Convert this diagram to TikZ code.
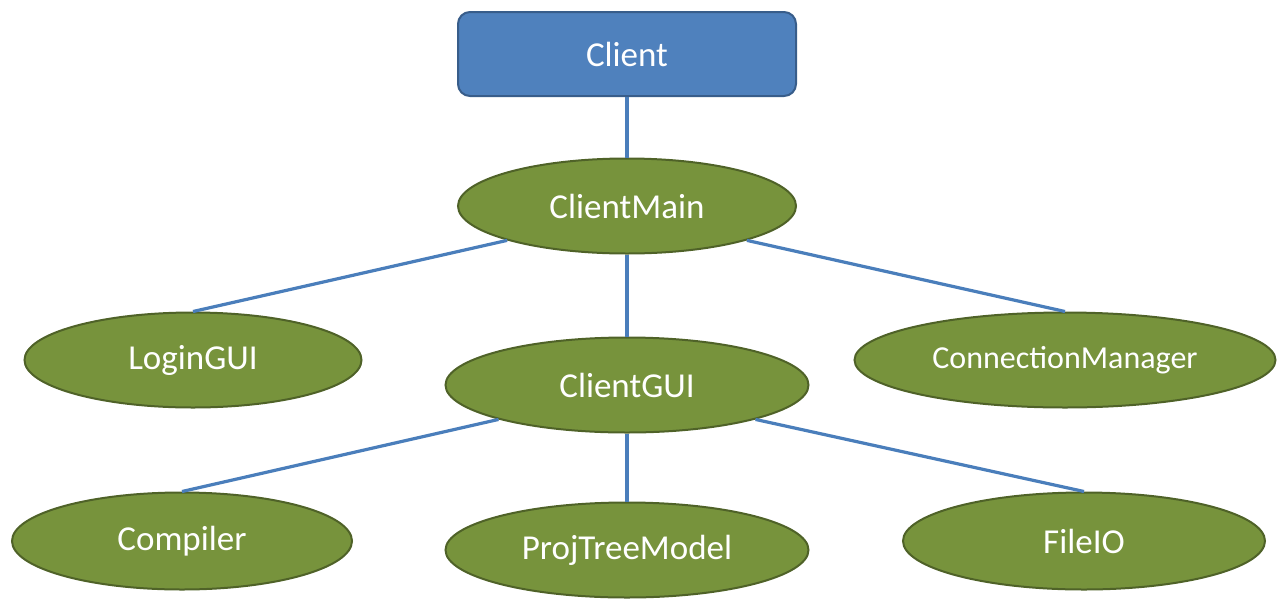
\documentclass[tikz,border=0pt]{standalone}
\usepackage{fontspec}
\setmainfont{Carlito}
\usetikzlibrary{shapes.geometric}
\definecolor{boxblue}{HTML}{4F81BD}
\definecolor{boxblueline}{HTML}{385D8A}
\definecolor{leafgreen}{HTML}{77933C}
\definecolor{leafgreenline}{HTML}{4F6228}
\definecolor{linkblue}{HTML}{4A7EBB}
\tikzset{
  rootbox/.style={draw=boxblueline, fill=boxblue, line width=2pt, rounded corners=12pt,
    minimum width=338pt, minimum height=84pt, inner sep=0pt, text=white,
    font=\fontsize{35}{40}\selectfont},
  classnode/.style={ellipse, draw=leafgreenline, fill=leafgreen, line width=2pt,
    minimum height=95pt, inner sep=0pt, text=white, font=\fontsize{35}{40}\selectfont},
  link/.style={draw=linkblue, line width=3.2pt}
}
\begin{document}
\begin{tikzpicture}[x=1pt, y=-1pt]
  \useasboundingbox (0,0) rectangle (1278,598);
  % class hierarchy
  \node[rootbox] (client) at (627,54) {Client};
  \node[classnode, minimum width=338pt] (main) at (627,206) {ClientMain};
  \node[classnode, minimum width=337pt] (login) at (193,360) {LoginGUI};
  \node[classnode, minimum width=421pt, font=\fontsize{32}{38}\selectfont] (conn) at (1065,360) {ConnectionManager};
  \node[classnode, minimum width=363pt] (gui) at (627,385) {ClientGUI};
  \node[classnode, minimum width=340pt, minimum height=97pt] (comp) at (182,541) {Compiler};
  \node[classnode, minimum width=363pt] (tree) at (627,550) {ProjTreeModel};
  \node[classnode, minimum width=362pt, minimum height=97pt] (fileio) at (1084,541) {FileIO};
  % links between classes, ending on the shape borders
  \path[link] (client.south) -- (main.north);
  \path[link] (main.196) -- (login.north);
  \path[link] (main.344) -- (conn.north);
  \path[link] (main.south) -- (gui.north);
  \path[link] (gui.195) -- (comp.north);
  \path[link] (gui.south) -- (tree.north);
  \path[link] (gui.345) -- (fileio.north);
\end{tikzpicture}
\end{document}
